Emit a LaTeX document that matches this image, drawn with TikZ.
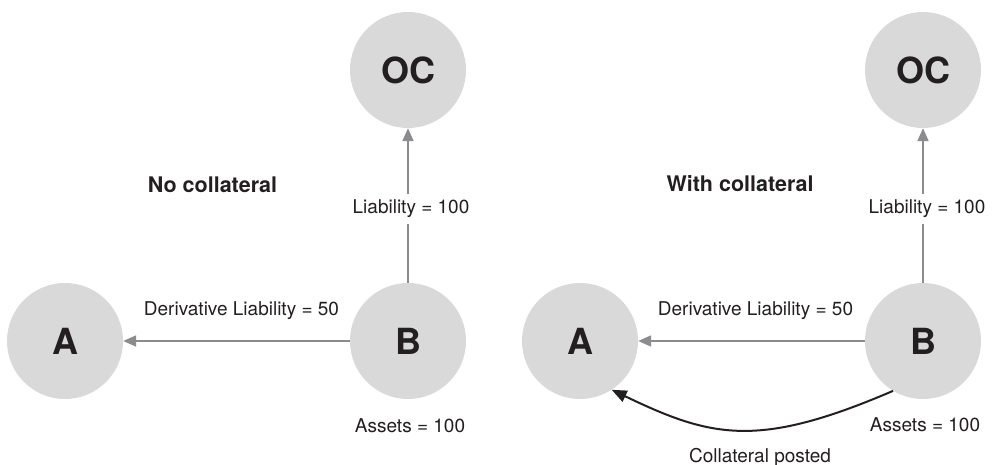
\documentclass[tikz,border=0pt]{standalone}
\usepackage{fontspec}
\setmainfont{TeX Gyre Heros}
\usetikzlibrary{arrows.meta}
\definecolor{disc}{RGB}{217,217,218}
\definecolor{link}{RGB}{140,140,142}
\definecolor{ink}{RGB}{35,31,32}
\begin{document}
\begin{tikzpicture}[x=1pt,y=-1pt,
  party/.style={circle,fill=disc,minimum size=116pt,inner sep=0pt,
    font=\fontsize{36}{40}\selectfont\bfseries,text=ink},
  lbl/.style={font=\fontsize{19}{22}\selectfont,text=ink,inner sep=0pt},
  ttl/.style={font=\fontsize{21.5}{24}\selectfont\bfseries,text=ink,inner sep=0pt},
  flow/.style={draw=link,line width=2pt,-{Triangle[length=13pt,width=11pt]}},
  post/.style={draw=ink,line width=2pt,-{Triangle[length=15pt,width=12pt]}},
  cut/.style={lbl,fill=white,inner ysep=6pt,inner xsep=0pt},
]
\useasboundingbox (0,0) rectangle (995,465);

% ---- without collateral ----
\node[party] (A1) at (65,341) {A};
\node[party] (B1) at (408,341) {B};
\node[party] (OC1) at (408,70) {OC};
\node[ttl,anchor=base] (t1) at (212.5,193) {No collateral};

\draw[flow] (B1) -- node[cut,pos=0.48,xshift=3pt] {Liability = 100} (OC1);
\draw[flow] (B1) -- node[lbl,above=20pt,xshift=5pt] {Derivative Liability = 50} (A1);
\node[lbl,anchor=base] (as1) at (410,432) {Assets = 100};

% ---- with collateral ----
\node[party] (A2) at (580,341) {A};
\node[party] (B2) at (923,341) {B};
\node[party] (OC2) at (923,70) {OC};
\node[ttl,anchor=base] (t2) at (740,192) {With collateral};

\draw[flow] (B2) -- node[cut,pos=0.48,xshift=4pt] {Liability = 100} (OC2);
\draw[flow] (B2) -- node[lbl,above=20pt,xshift=4pt] {Derivative Liability = 50} (A2);
\node[lbl,anchor=base] (as2) at (925,431) {Assets = 100};

\draw[post] (B2.239) .. controls +(-135,58) and +(100,48) .. (A2.303);
\node[lbl,anchor=base] (cp) at (760,462) {Collateral posted};
\end{tikzpicture}
\end{document}
